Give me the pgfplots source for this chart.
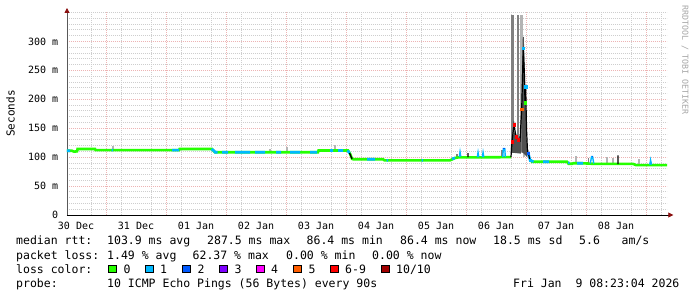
\documentclass[border=0pt]{standalone}
\usepackage{pgfplots}
\pgfplotsset{compat=1.18}
\usepackage{fontspec}
\usetikzlibrary{arrows.meta}
\newfontfamily\monofont{DejaVu Sans Mono}
\definecolor{arrowred}{HTML}{8B1010}
\definecolor{lzero}{HTML}{26FF00}
\definecolor{lone}{HTML}{00B8FF}
\definecolor{ltwo}{HTML}{0059FF}
\definecolor{lthree}{HTML}{7E00FF}
\definecolor{lfour}{HTML}{FF00FF}
\definecolor{lfive}{HTML}{FF5E00}
\definecolor{lsix}{HTML}{FF0000}
\definecolor{lten}{HTML}{A10000}
\definecolor{smokemid}{HTML}{808080}
\definecolor{smokelight}{HTML}{B4B4B4}
\definecolor{smokedark}{HTML}{505050}
\definecolor{mgrid}{HTML}{EDB4B4}
\definecolor{ngrid}{HTML}{CECECE}
\begin{document}
\begin{tikzpicture}
\fill[white] (0,0) rectangle (697bp,297bp);
\path[use as bounding box] (0,0) rectangle (697bp,297bp);
\begin{axis}[
  at={(67bp,82bp)}, anchor=south west,
  scale only axis, width=600bp, height=202.5bp,
  xmin=8.384, xmax=248.384, ymin=0, ymax=350,
  axis lines=left,
  x axis line style={black, line width=0.8bp, shorten >=-6.3bp, -{Triangle[length=5bp,width=5bp,color=arrowred]}},
  y axis line style={black!65, line width=0.8bp, shorten >=-4.5bp, -{Triangle[length=5bp,width=5bp,color=arrowred]}},
  xtick={12,36,60,84,108,132,156,180,204,228},
  xticklabels={30 Dec,31 Dec,01 Jan,02 Jan,03 Jan,04 Jan,05 Jan,06 Jan,07 Jan,08 Jan},
  minor xtick={18,30,42,54,66,78,90,102,114,126,138,150,162,174,186,198,210,222,234,246},
  extra x ticks={24,48,72,96,120,144,168,192,216,240},
  extra x tick style={xmajorgrids=true, xticklabel={\relax}},
  xmajorgrids=false, xminorgrids=true,
  ytick={0,50,100,150,200,250,300},
  yticklabels={0,50 m,100 m,150 m,200 m,250 m,300 m},
  minor ytick={10,20,30,40,60,70,80,90,110,120,130,140,160,170,180,190,210,220,230,240,260,270,280,290,310,320,330,340,350},
  ymajorgrids=true, yminorgrids=true,
  major grid style={mgrid, line width=0.8bp, dash pattern=on 1bp off 1bp},
  minor grid style={ngrid, line width=0.8bp, dash pattern=on 1bp off 1bp},
  tick style={draw=none},
  ticklabel style={font=\monofont\fontsize{10bp}{12bp}\selectfont, inner sep=0pt},
  yticklabel style={anchor=east, xshift=-6.5bp},
  xticklabel style={anchor=base, yshift=-12.3bp},
  unbounded coords=jump,
]
% smoke
\addplot[fill=smokemid, draw=none] coordinates {(185.98,108) (187.38,108) (187.38,346) (185.98,346)} -- cycle;
\addplot[fill=smokemid, draw=none] coordinates {(188.38,108) (189.38,108) (189.38,346) (188.38,346)} -- cycle;
\addplot[fill=smokelight, draw=none] coordinates {(189.78,108) (190.78,108) (190.78,346) (189.78,346)} -- cycle;
\addplot[fill=smokelight, draw=none] coordinates {(190.78,100) (191.5,100) (191.5,250) (190.78,250)} -- cycle;
\addplot[fill=smokedark, draw=none] coordinates {(185.98,108) (189.98,106) (189.98,140) (188.8,132) (187.6,145) (186.4,132) (185.98,122)} -- cycle;
\addplot[fill=smokedark, draw=none] coordinates {(190.1,110) (192.5,100) (192.5,105) (192.1,150) (191.6,230) (191.1,308) (190.7,308) (190.4,250) (190.1,150)} -- cycle;
\addplot[fill=smokelight, draw=none] coordinates {(192.6,98) (193.2,98) (193.2,112) (192.6,112)} -- cycle;
\addplot[smokelight, line width=1.2bp] coordinates {
(26.8,111) (26.8,119) (26.8,nan)
(89.6,108) (89.6,114) (89.6,nan)
(96.4,109) (96.4,118) (96.4,nan)
(115.6,111) (115.6,121) (115.6,nan)
(212.0,89) (212.0,102) (212.0,nan)
(224.4,88) (224.4,101) (224.4,nan)
(226.8,88) (226.8,99) (226.8,nan)
(237.2,86) (237.2,96)};
\addplot[smokemid, line width=1.2bp] coordinates {
(164.4,99) (164.4,106) (164.4,nan)
(182.4,100) (182.4,112) (182.4,nan)
(217.0,89) (217.0,99)};
% median, loss 0
\addplot[lzero, line width=2.6bp] coordinates {
(8.38,111) (10.4,111) (11.2,109.5) (12.4,110) (12.6,114) (19.6,114) (19.8,112) (53.2,112) (53.4,114) (66.4,114) (67.2,110) (67.6,108.5) (108.8,108.5) (109.0,111.5) (120.8,111.5) (121.6,106) (122.4,97) (122.8,96.4) (134.8,96.4) (135.4,94.4) (161.6,94.4) (163.6,98.6) (164.8,99.5) (186.0,100) (186.0,nan)
(193.9,92) (208.4,92) (209.0,88.5) (210.4,88.5) (211.0,89.5) (214.6,89.4) (219.6,88.3) (234.8,88.3) (236.0,86.3) (248.4,86.3)};
% median, loss 1
\addplot[lone, line width=2.6bp] coordinates {
(8.38,111) (9.6,111) (9.6,nan)
(26.2,112) (26.8,112) (26.8,nan)
(50.4,112) (53.2,112) (53.2,nan)
(66.2,114) (67.2,111) (67.6,108.5) (68.6,108.5) (68.6,nan)
(70.4,108.5) (72.8,108.5) (72.8,nan)
(75.6,108.5) (81.6,108.5) (81.6,nan)
(83.6,108.5) (87.6,108.5) (87.6,nan)
(92.0,108.5) (94.0,108.5) (94.0,nan)
(97.6,108.5) (101.6,108.5) (101.6,nan)
(105.6,108.5) (108.4,108.5) (108.4,nan)
(113.6,111.5) (114.8,111.5) (114.8,nan)
(116.8,111.5) (118.8,111.5) (118.8,nan)
(120.6,111.5) (121.4,107) (121.4,nan)
(128.4,96.4) (131.6,96.4) (131.6,nan)
(136.2,94.4) (136.8,94.4) (136.8,nan)
(150.2,94.4) (150.8,94.4) (150.8,nan)
(162.4,97) (163.6,98.6) (163.6,nan)
(198.8,92) (201.2,92) (201.2,nan)
(208.8,90) (209.4,90) (209.4,nan)
(212.4,89.4) (214.8,89.4) (214.8,nan)
(192.9,107) (193.6,95) (195.0,92)};
\addplot[lone, line width=1.4bp] coordinates {
(165.3,100) (165.6,109) (165.9,101) (165.9,nan)
(172.5,100) (172.8,108) (173.1,100) (173.1,nan)
(174.5,100) (174.8,108) (175.1,100) (175.1,nan)
(182.7,100) (182.9,115) (183.5,115) (183.7,100) (183.7,nan)
(217.7,89) (218.2,101) (218.6,101) (219.1,89) (219.1,nan)
(241.5,87) (241.8,95) (242.2,87)};
\addplot[ltwo, line width=1.6bp] coordinates {
(182.9,115) (183.4,115) (183.4,nan)
(218.2,101) (218.5,101)};
% dark connecting parts
\addplot[black, line width=1.3bp] coordinates {
(121.4,107) (122.4,97) (122.4,nan)
(168.8,100) (168.8,107) (168.8,nan)
(228.8,88) (228.8,103)};
% spike median
\addplot[black, line width=1.2bp] coordinates {
(185.98,100) (186.38,127) (187.18,156) (187.98,135) (188.78,130) (189.58,128) (190.26,183) (190.9,288) (191.38,240) (191.58,194) (191.86,222) (192.18,150) (192.58,110) (192.9,107) (193.58,95) (193.98,92)};
\addplot[only marks, mark=square*, mark size=1.2bp, color=lsix] coordinates {(186.38,127) (187.18,156) (187.98,135) (188.78,130)};
\addplot[only marks, mark=square*, mark size=1.2bp, color=lfive] coordinates {(190.26,183)};
\addplot[only marks, mark=square*, mark size=1.2bp, color=lone] coordinates {(190.9,288) (191.86,222) (193.58,95)};
\addplot[only marks, mark=square*, mark size=1.2bp, color=lzero] coordinates {(191.58,194)};
\addplot[only marks, mark=square*, mark size=1.2bp, color=ltwo] coordinates {(192.9,107)};
\end{axis}
% labels
\node[rotate=90, font=\monofont\fontsize{11bp}{13bp}\selectfont, inner sep=0pt] at (10.5bp,183.5bp) {Seconds};
\node[rotate=-90, font=\monofont\fontsize{8.3bp}{10bp}\selectfont, inner sep=0pt, text=black!35] at (685bp,237bp) {RRDTOOL / TOBI OETIKER};
\tikzset{leg/.style={anchor=base west, inner sep=0pt, font=\monofont\fontsize{11.5bp}{14bp}\selectfont}}
% row 1
\node[leg] at (16bp,52bp) {median rtt:};
\node[leg] at (107bp,52bp) {103.9 ms avg};
\node[leg] at (207bp,52bp) {287.5 ms max};
\node[leg] at (306.5bp,52bp) {86.4 ms min};
\node[leg] at (400bp,52bp) {86.4 ms now};
\node[leg] at (493bp,52bp) {18.5 ms sd};
\node[leg] at (579bp,52bp) {5.6};
\node[leg] at (621.5bp,52bp) {am/s};
% row 2
\node[leg] at (16bp,37.7bp) {packet loss:};
\node[leg] at (107bp,37.7bp) {1.49 \% avg};
\node[leg] at (192.5bp,37.7bp) {62.37 \% max};
\node[leg] at (286bp,37.7bp) {0.00 \% min};
\node[leg] at (372bp,37.7bp) {0.00 \% now};
% row 3
\node[leg] at (16bp,23.7bp) {loss color:};
\foreach \bx/\lx/\col/\txt in {108.3/123.3/lzero/0, 145.7/160/lone/1, 182.7/197.3/ltwo/2, 219.3/234.3/lthree/3, 256.7/271/lfour/4, 293.3/308.3/lfive/5, 330.7/345/lsix/6-9, 381.7/396/lten/{10/10}}{
  \filldraw[fill=\col, draw=black, line width=0.8bp] (\bx bp,24.1bp) rectangle (\bx bp+7.6bp,31.7bp);
  \node[leg] at (\lx bp,23.7bp) {\txt};
}
% row 4
\node[leg] at (16bp,9.7bp) {probe:};
\node[leg] at (107bp,9.7bp) {10 ICMP Echo Pings (56 Bytes) every 90s};
\node[leg] at (513bp,9.7bp) {Fri Jan \ 9 08:23:04 2026};
\end{tikzpicture}
\end{document}
